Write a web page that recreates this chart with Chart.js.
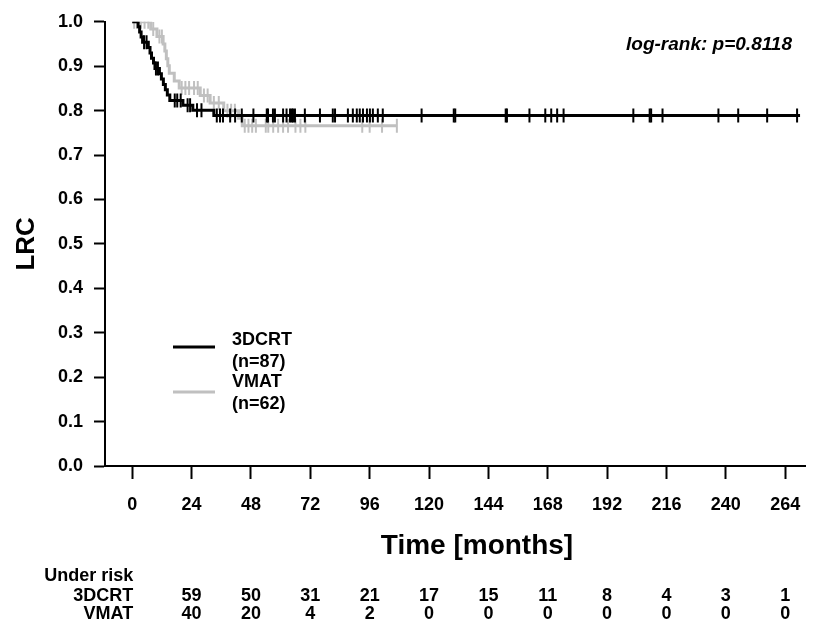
<!DOCTYPE html>
<html>
<head>
<meta charset="utf-8">
<script src="https://cdn.jsdelivr.net/npm/chart.js@4.4.1/dist/chart.umd.min.js"></script>
<style>
  html, body { margin: 0; padding: 0; background: #fff; }
</style>
</head>
<body>
<canvas id="myChart" width="835" height="619"></canvas>
<script>
// Kaplan-Meier LRC, 3DCRT vs VMAT

// 3DCRT steps (month, LRC)
const crtTime = [0, 2.4, 3.0, 3.6, 4.2, 6.5, 7.2, 7.8, 8.6, 9.2, 11.0, 11.8, 12.6, 13.4, 14.2, 15.2, 20.5, 24.5, 33.0, 270];
const crtSurv = [1.0, 0.989, 0.977, 0.966, 0.954, 0.942, 0.930, 0.918, 0.907, 0.895, 0.883, 0.871, 0.859, 0.847, 0.835, 0.823, 0.812, 0.801, 0.789, 0.789];
const crtCensor = [4.8, 5.8, 9.6, 10.4, 17.2, 18.2, 19.6, 22.4, 23.4, 26.2, 28, 34.2, 35.5, 36.7, 39.6, 41.6, 44.3, 49,
    54.4, 54.9, 56.9, 57.7, 61, 62.4, 63.8, 64.5, 65, 65.8, 69.8, 75.9, 81.1, 82, 87.2, 89.2, 90.8, 92, 93.3, 94.9,
    96.1, 97.3, 99.3, 101.3, 117, 130, 130.6, 151, 151.5, 160.6, 167, 169.4, 171.8, 174.4, 202.6, 209.2, 209.8,
    214.4, 237, 245, 256.7, 268.8];

// VMAT steps
const vmatTime = [0, 7.5, 10, 12.5, 13.2, 13.8, 14.4, 15.0, 17.0, 19.0, 27.5, 31.5, 37.0, 43.0, 44.5, 107];
const vmatSurv = [1.0, 0.984, 0.967, 0.950, 0.934, 0.917, 0.901, 0.884, 0.867, 0.851, 0.834, 0.817, 0.800, 0.783, 0.766, 0.766];
const vmatCensor = [0.8, 2, 3.5, 5, 6.5, 8.5, 11, 12, 20, 21.5, 23, 25, 26.5, 29, 30.5, 33, 35, 38.5, 40, 41.5,
    45.5, 47, 48.5, 50, 54, 55, 57, 59, 61, 63, 66, 68, 70, 93, 96, 101, 107];

const groupNames = ['3DCRT', 'VMAT'];
const groupN = [87, 62];

const xTicks = [0, 24, 48, 72, 96, 120, 144, 168, 192, 216, 240, 264];
const yTicks = [0, 0.1, 0.2, 0.3, 0.4, 0.5, 0.6, 0.7, 0.8, 0.9, 1.0];

// numbers at risk
const riskTimes = [24, 48, 72, 96, 120, 144, 168, 192, 216, 240, 264];
const risk3dcrt = [59, 50, 31, 21, 17, 15, 11, 8, 4, 3, 1];
const riskVmat = [40, 20, 4, 2, 0, 0, 0, 0, 0, 0, 0];

const pValueText = 'log-rank: p=0.8118';
const xTitle = 'Time [months]';

const FONT = '"Liberation Sans", Arial, sans-serif';
const BLACK = '#000000';
const GREY = '#c0c0c0';

// value of the step curve at time t
function stepAt(times, surv, t) {
    let v = surv[0];
    for (let i = 0; i < times.length; i++) {
        if (times[i] <= t) v = surv[i];
    }
    return v;
}

function toPoints(times, surv) {
    return times.map((t, i) => ({ x: t, y: surv[i] }));
}

function censorPoints(cens, times, surv) {
    return cens.map(t => ({ x: t, y: stepAt(times, surv, t) }));
}

const data = {
    datasets: [
        {
            label: groupNames[0],
            data: toPoints(crtTime, crtSurv),
            borderColor: BLACK,
            borderWidth: 3,
            stepped: 'before',
            pointRadius: 0,
            fill: false
        },
        {
            type: 'scatter',
            data: censorPoints(crtCensor, crtTime, crtSurv),
            borderColor: BLACK,
            backgroundColor: BLACK,
            pointStyle: 'line',
            rotation: 90,
            pointRadius: 7,
            pointBorderWidth: 2
        },
        {
            label: groupNames[1],
            data: toPoints(vmatTime, vmatSurv),
            borderColor: GREY,
            borderWidth: 3,
            stepped: 'before',
            pointRadius: 0,
            fill: false
        },
        {
            type: 'scatter',
            data: censorPoints(vmatCensor, vmatTime, vmatSurv),
            borderColor: GREY,
            backgroundColor: GREY,
            pointStyle: 'line',
            rotation: 90,
            pointRadius: 7,
            pointBorderWidth: 2
        }
    ]
};

// legend, p-value, x title and risk table
const extras = {
    id: 'extras',
    afterDraw(chart) {
        const ctx = chart.ctx;
        const xs = chart.scales.x;
        const area = chart.chartArea;
        ctx.save();
        ctx.fillStyle = BLACK;

        // p value
        ctx.font = 'italic bold 19px ' + FONT;
        ctx.textAlign = 'right';
        ctx.textBaseline = 'middle';
        ctx.fillText(pValueText, 792, 45);

        // x axis title
        ctx.font = 'bold 28px ' + FONT;
        ctx.textAlign = 'center';
        ctx.fillText(xTitle, 477, area.bottom + 80);

        // legend
        const colors = [BLACK, GREY];
        const lineY = [347, 392];
        const textY = [340, 382];
        ctx.font = 'bold 18px ' + FONT;
        ctx.textAlign = 'left';
        for (let i = 0; i < 2; i++) {
            ctx.strokeStyle = colors[i];
            ctx.lineWidth = 3;
            ctx.beginPath();
            ctx.moveTo(173, lineY[i]);
            ctx.lineTo(215, lineY[i]);
            ctx.stroke();
            ctx.fillText(groupNames[i], 232, textY[i]);
            ctx.fillText('(n=' + groupN[i] + ')', 232, textY[i] + 22);
        }

        // numbers at risk
        const labelX = xs.getPixelForValue(0) + 1;
        const rowY = [area.bottom + 110, area.bottom + 130, area.bottom + 148];
        ctx.textAlign = 'right';
        ctx.fillText('Under risk', labelX, rowY[0]);
        ctx.fillText(groupNames[0], labelX, rowY[1]);
        ctx.fillText(groupNames[1], labelX, rowY[2]);
        ctx.textAlign = 'center';
        riskTimes.forEach((t, i) => {
            const px = xs.getPixelForValue(t);
            ctx.fillText(String(risk3dcrt[i]), px, rowY[1]);
            ctx.fillText(String(riskVmat[i]), px, rowY[2]);
        });
        ctx.restore();
    }
};

const config = {
    type: 'line',
    data: data,
    options: {
        responsive: false,
        animation: false,
        layout: {
            padding: { top: 18, right: 30, left: 0, bottom: 0 }
        },
        plugins: {
            legend: { display: false },
            tooltip: { enabled: false }
        },
        scales: {
            x: {
                type: 'linear',
                min: -11,
                max: 272,
                afterBuildTicks: s => { s.ticks = xTicks.map(v => ({ value: v })); },
                afterFit: s => { s.height = 153; },
                border: { display: true, color: BLACK, width: 2 },
                grid: { drawOnChartArea: false, drawTicks: true, tickLength: 13, tickWidth: 2, tickColor: BLACK },
                ticks: {
                    color: BLACK,
                    padding: 15,
                    maxRotation: 0,
                    font: { family: FONT, size: 18, weight: 'bold' }
                }
            },
            y: {
                min: 0,
                max: 1,
                afterBuildTicks: s => { s.ticks = yTicks.map(v => ({ value: v })); },
                afterFit: s => { s.width = 105; },
                border: { display: true, color: BLACK, width: 2 },
                grid: { drawOnChartArea: false, drawTicks: true, tickLength: 11, tickWidth: 2, tickColor: BLACK },
                ticks: {
                    color: BLACK,
                    padding: 11,
                    callback: v => v.toFixed(1),
                    font: { family: FONT, size: 18, weight: 'bold' }
                },
                title: {
                    display: true,
                    text: 'LRC',
                    color: BLACK,
                    font: { family: FONT, size: 26, weight: 'bold' },
                    padding: { top: 11, bottom: 0 }
                }
            }
        }
    },
    plugins: [extras]
};

const myChart = new Chart(
    document.getElementById('myChart'),
    config
);
</script>
</body>
</html>
